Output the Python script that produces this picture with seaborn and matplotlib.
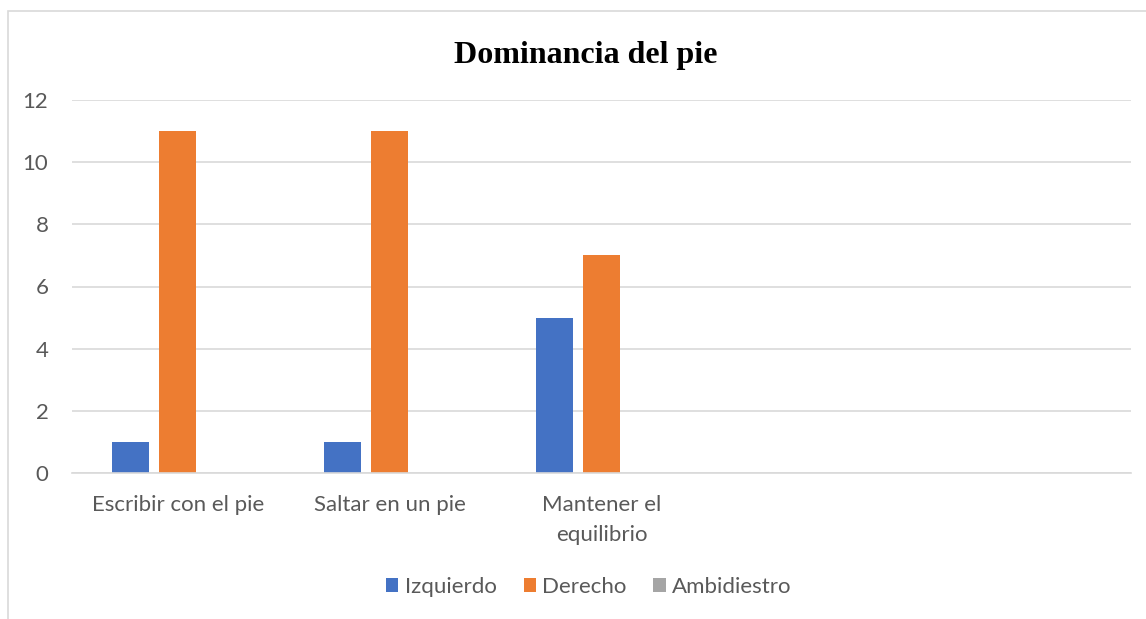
import matplotlib
matplotlib.use("Agg")
import matplotlib.pyplot as plt
import seaborn as sns
import pandas as pd
from matplotlib.patches import Rectangle, Patch

categories = ["Escribir con el pie", "Saltar en un pie", "Mantener el\nequilibrio"]
series_names = ["Izquierdo", "Derecho", "Ambidiestro"]
izquierdo = [1, 1, 5]
derecho = [11, 11, 7]
ambidiestro = [0, 0, 0]
yticks = [0, 2, 4, 6, 8, 10, 12]
title = "Dominancia del pie"
colors = ["#4472C4", "#ED7D31", "#A5A5A5"]

rows = []
for name, vals in zip(series_names, [izquierdo, derecho, ambidiestro]):
    for c, v in zip(categories, vals):
        rows.append({"cat": c, "serie": name, "valor": v})
df = pd.DataFrame(rows)

sns.set_theme(style="white")
plt.rcParams['font.family'] = ['Lato', 'DejaVu Sans']

W, H = 1146, 619
fig = plt.figure(figsize=(W / 100, H / 100), dpi=100)
ax = fig.add_axes([72 / W, 1 - 473 / H, (1131 - 72) / W, (473 - 100) / H])

sns.barplot(data=df, x="cat", y="valor", hue="serie", order=categories,
            hue_order=series_names, palette=colors, width=0.666, gap=0.21,
            saturation=1, ax=ax, legend=False, linewidth=0)

ax.set_xlim(-0.5, 4.5)
ax.set_ylim(0, 12)
ax.set_yticks(yticks)
ax.set_yticklabels([str(t) for t in yticks])
ax.grid(axis="y", color="#D9D9D9", linewidth=1.2)
ax.set_axisbelow(True)
for s in ["top", "right", "left"]:
    ax.spines[s].set_visible(False)
ax.spines["bottom"].set_color("#D9D9D9")
ax.spines["bottom"].set_linewidth(1.2)
ax.tick_params(axis="both", length=0, labelsize=16, labelcolor="#595959")
ax.tick_params(axis="x", pad=16)
ax.tick_params(axis="y", pad=17)
for lbl in ax.get_xticklabels():
    lbl.set_linespacing(1.6)
ax.set_xlabel("")
ax.set_ylabel("")

fig.text(586 / W, 1 - 55 / H, title, ha="center", va="center",
         fontsize=23, fontweight="bold", family="Liberation Serif", color="black")

handles = [Patch(facecolor=c, edgecolor="none") for c in colors]
fig.legend(handles, series_names, loc="center", bbox_to_anchor=(589 / W, 1 - 587 / H),
           ncol=3, frameon=False, fontsize=16, labelcolor="#595959",
           handlelength=0.55, handleheight=0.55, handletextpad=0.3, columnspacing=1.2)

fig.patches.append(Rectangle((8 / W, -0.05), 1.2, 1 - 11 / H + 0.05,
                             transform=fig.transFigure, fill=False,
                             edgecolor="#D9D9D9", linewidth=1.2, zorder=0))

fig.savefig("out.png", dpi=100)
